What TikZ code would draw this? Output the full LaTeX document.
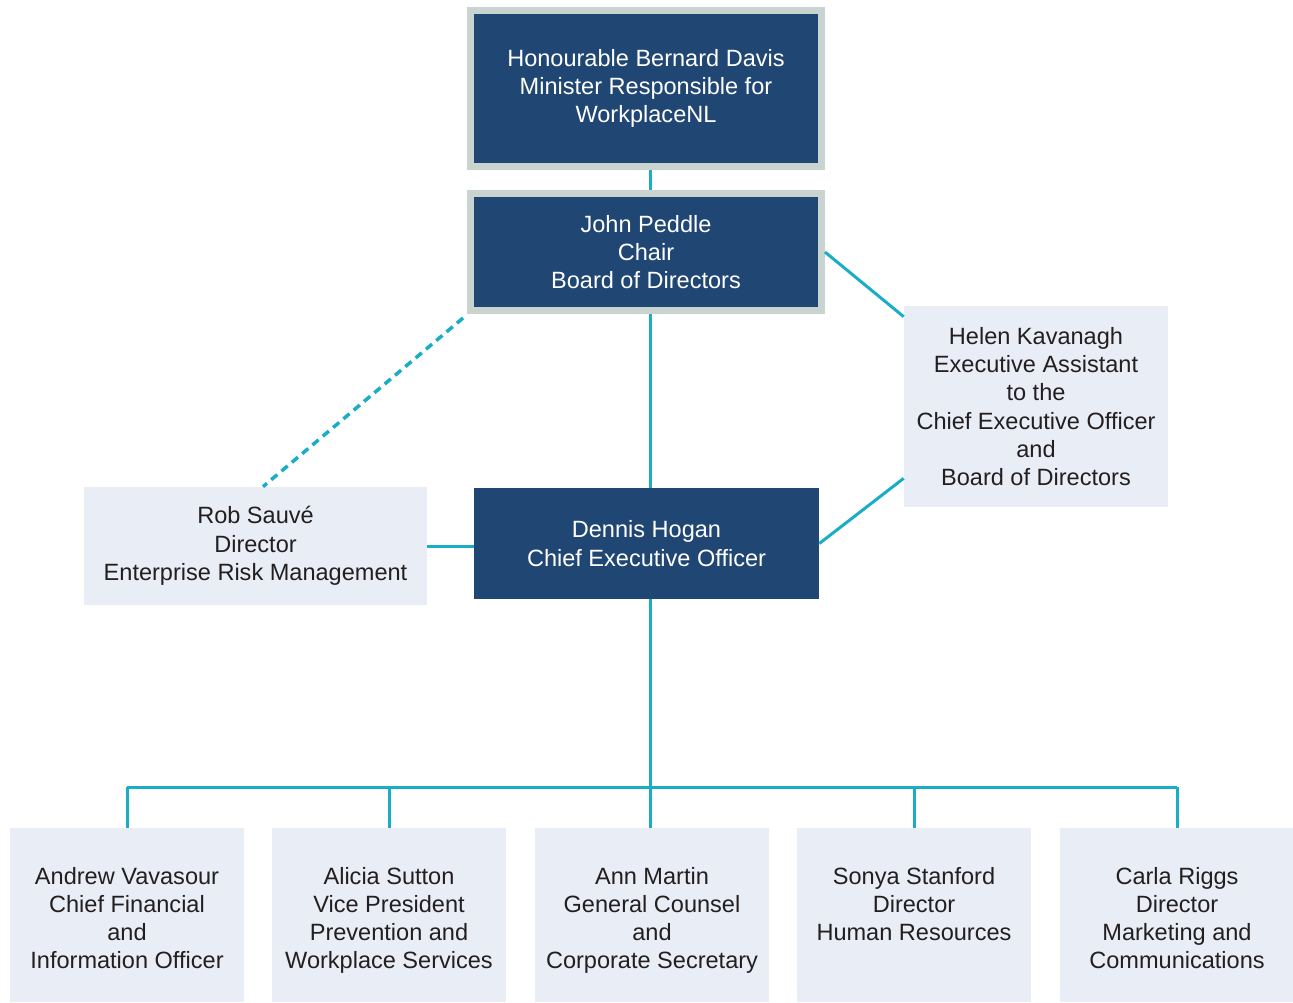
\documentclass[tikz,border=0pt]{standalone}
\usepackage{fontspec}
\setmainfont{Liberation Sans}
\usetikzlibrary{positioning}
\definecolor{wnlnavy}{HTML}{204674}
\definecolor{wnlframe}{HTML}{C9D3D0}
\definecolor{wnllight}{HTML}{E9EDF6}
\definecolor{wnlteal}{HTML}{1AADC6}
\definecolor{wnltext}{HTML}{231F20}
\tikzset{
        x=0.02cm, y=-0.02cm, % one unit is one pixel of the chart
        every node/.style={font=\fontsize{13.4}{16.1}\selectfont, align=center, inner sep=0pt},
        boss/.style={draw=wnlframe, line width=1.4mm, fill=wnlnavy, text=white, minimum width=7.02cm}, % framed dark boxes
        chief/.style={fill=wnlnavy, text=white, minimum width=6.9cm, minimum height=2.22cm},
        aide/.style={fill=wnllight, text=wnltext},
        staff/.style={aide, minimum width=4.68cm, minimum height=3.48cm},
        staff text/.style={text=wnltext, anchor=north, yshift=-0.78cm},
        link/.style={draw=wnlteal, line width=0.6mm},
        dotlink/.style={link, line width=0.7mm, dash pattern=on 1.6mm off 1.1mm},
    }
\begin{document}
\begin{tikzpicture}
    \useasboundingbox (0,0) rectangle (1293,1002);
    \node[boss, minimum height=3.12cm] (minister) at (646,88.5) {Honourable Bernard Davis\\Minister Responsible for\\WorkplaceNL};
    \node[boss, minimum height=2.34cm] (chair) at (646,252) {John Peddle\\Chair\\Board of Directors};
    \node[aide, minimum width=5.28cm, minimum height=4.02cm] (ea) at (1036,406.5) {Helen Kavanagh\\Executive Assistant\\to the\\Chief Executive Officer\\and\\Board of Directors};
    \node[aide, minimum width=6.86cm, minimum height=2.36cm] (erm) at (255.5,546) {Rob Sauvé\\Director\\Enterprise Risk Management};
    \node[chief] (ceo) at (646.5,543.5) {Dennis Hogan\\Chief Executive Officer};
    \coordinate (bus) at (650,787);
    % bottom row
    \node[staff] (cfo) at (127,915) {};
    \node[staff] (vp) at (389,915) {};
    \node[staff] (gc) at (652,915) {};
    \node[staff] (hr) at (914,915) {};
    \node[staff] (mc) at (1177,915) {};
    \node[staff text] (cfo-t) at (cfo.north) {Andrew Vavasour\\Chief Financial\\and\\Information Officer};
    \node[staff text] (vp-t) at (vp.north) {Alicia Sutton\\Vice President\\Prevention and\\Workplace Services};
    \node[staff text] (gc-t) at (gc.north) {Ann Martin\\General Counsel\\and\\Corporate Secretary};
    \node[staff text] (hr-t) at (hr.north) {Sonya Stanford\\Director\\Human Resources};
    \node[staff text] (mc-t) at (mc.north) {Carla Riggs\\Director\\Marketing and\\Communications};
    % connectors
    \draw[link] (minister.south -| bus) -- (chair.north -| bus);
    \draw[link] (chair.south -| bus) -- (ceo.north -| bus);
    \draw[link] (chair.east) -- ([yshift=-0.22cm]ea.north west);
    \draw[link] ([yshift=0.58cm]ea.south west) -- (ceo.east);
    \draw[dotlink] ([shift={(-0.08cm,-0.08cm)}]chair.south west) -- ([xshift=0.15cm]erm.north);
    \draw[link] (erm.east) -- (erm.east -| ceo.west);
    \draw[link] (ceo.south -| bus) -- (bus);
    \draw[link] (cfo.north |- bus) -- (mc.north |- bus);
    \foreach \n in {cfo,vp,hr,mc}
      \draw[link] (\n.north |- bus) -- (\n.north);
    \draw[link] (bus) -- (gc.north -| bus);
\end{tikzpicture}
\end{document}
